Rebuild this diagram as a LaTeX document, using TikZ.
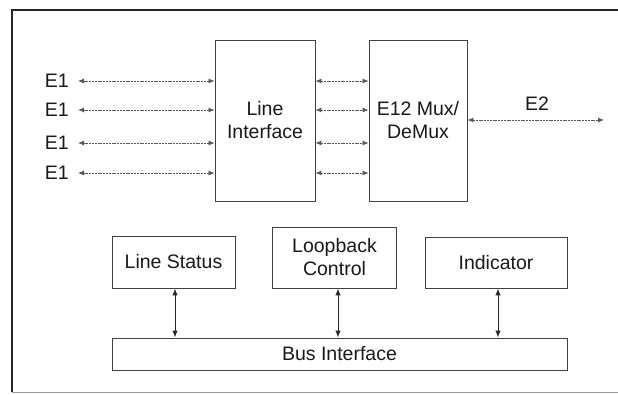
\documentclass[tikz,border=0pt]{standalone}
\usepackage{fontspec}
\setmainfont{Liberation Sans}
\usetikzlibrary{arrows.meta}
\begin{document}
\begin{tikzpicture}[x=1pt,y=-1pt,
  blk/.style={draw=black!75, line width=0.9pt, inner sep=0pt, font=\fontsize{19.5}{23}\selectfont, align=center, text=black!90},
  harr/.style={draw=black!65, line width=0.8pt, dash pattern=on 2pt off 0.8pt, {Latex[length=6pt,width=5pt]}-{Latex[length=6pt,width=5pt]}},
  varr/.style={draw=black!85, line width=1pt, {Latex[length=7pt,width=5.5pt]}-{Latex[length=7pt,width=5.5pt]}},
  lbl/.style={font=\fontsize{19.5}{23}\selectfont, text=black!90, inner sep=1pt}]
\useasboundingbox (0,0) rectangle (618,395);
\fill[white] (0,0) rectangle (618,395);
\draw[black!85, line width=1.4pt] (12,392) -- (12,10) -- (618,10);
\draw[black!40, line width=0.6pt] (12,392) -- (618,392);
% top blocks
\node[blk, minimum width=100pt, minimum height=161pt] (li) at (265,120.5) {Line\\Interface};
\node[blk, minimum width=98pt, minimum height=161pt] (mux) at (418,120.5) {E12 Mux/\\DeMux};
% E1 inputs
\foreach \i/\y in {1/81,2/110,3/143,4/173}{
  \node[lbl, anchor=east] (e\i) at (70,\y) {E1};
  \coordinate (a\i) at (li.west |- 0,\y);
  \coordinate (b\i) at (li.east |- 0,\y);
  \coordinate (c\i) at (mux.west |- 0,\y);
  \draw[harr] (e\i.east) ++(8,0) -- (a\i);
  \draw[harr] (b\i) -- (c\i);
}
\coordinate (m2) at (mux.east |- 0,120);
\coordinate (e2end) at (604,120);
\draw[harr] (m2) -- (e2end);
\node[lbl] (e2) at (537,104) {E2};
% bottom blocks
\node[blk, minimum width=123pt, minimum height=52pt] (ls) at (173.5,262) {Line Status};
\node[blk, minimum width=124pt, minimum height=61pt] (lb) at (334.5,257.5) {Loopback\\Control};
\node[blk, minimum width=142pt, minimum height=51pt] (ind) at (496,262.5) {Indicator};
\node[blk, minimum width=455pt, minimum height=32pt] (bus) at (339.5,354) {Bus Interface};
\draw[varr] (ls.south -| 175,0) -- (bus.north -| 175,0);
\draw[varr] (lb.south -| 338,0) -- (bus.north -| 338,0);
\draw[varr] (ind.south -| 498,0) -- (bus.north -| 498,0);
\end{tikzpicture}
\end{document}
